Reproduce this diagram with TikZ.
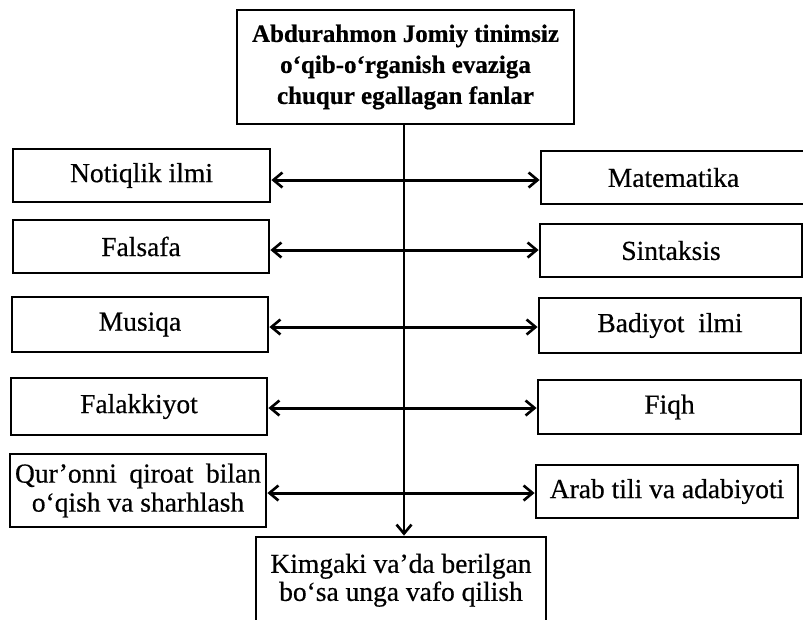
\documentclass[tikz,border=0pt]{standalone}
\usepackage{fontspec}
\setmainfont{Liberation Serif}[FakeBold=0.5]
\newfontfamily\headfont{Liberation Serif}[FakeBold=0.6]
\usetikzlibrary{arrows.meta}
\tikzset{
  box/.style={draw=black, line width=2.8pt, inner sep=0pt, align=center,
    font=\fontsize{27.5}{29}\selectfont},
  topbox/.style={box, font=\headfont\bfseries\fontsize{25}{31}\selectfont},
  barb/.style={Straight Barb[length=9pt,width=15pt,line width=2.6pt]},
  link/.style={line width=3pt, {Straight Barb[length=9pt,width=15pt,line width=2.6pt]}-{Straight Barb[length=9pt,width=15pt,line width=2.6pt]}},
  down/.style={line width=2.8pt, -{Straight Barb[length=9pt,width=15pt,line width=2.6pt]}}
}
\begin{document}
\begin{tikzpicture}[x=1pt,y=-1pt]
\useasboundingbox (0,0) rectangle (803,619);
\node[topbox, minimum width=337pt, minimum height=114pt] (top) at (405.5,67)
  {Abdurahmon Jomiy tinimsiz\\o‘qib-o‘rganish evaziga\\chuqur egallagan fanlar};
\node[box, minimum width=257pt, minimum height=53pt] (l1) at (141.5,175.5) {Notiqlik ilmi};
\node[box, minimum width=256pt, minimum height=53pt] (l2) at (141,246.5) {Falsafa};
\node[box, minimum width=256pt, minimum height=55pt] (l3) at (140,324.5) {Musiqa};
\node[box, minimum width=256pt, minimum height=57pt] (l4) at (139,406.5) {Falakkiyot};
\node[box, minimum width=256pt, minimum height=73pt] (l5) at (138,490.5)
  {\makebox[246pt][s]{Qur’onni qiroat bilan}\\o‘qish va sharhlash};
\node[box, minimum width=265pt, minimum height=53pt] (r1) at (673.5,177.5) {Matematika};
\node[box, minimum width=262pt, minimum height=53pt] (r2) at (671,250.5) {Sintaksis};
\node[box, minimum width=262pt, minimum height=55pt] (r3) at (670,325.5) {Badiyot\ \ ilmi};
\node[box, minimum width=263pt, minimum height=54pt] (r4) at (669.5,407) {Fiqh};
\node[box, minimum width=262pt, minimum height=53pt] (r5) at (667,491.5) {Arab tili va adabiyoti};
\node[box, minimum width=290pt, minimum height=93pt, text height=0pt, text depth=0pt] (bot) at (401,583.5)
  {\raisebox{-3pt}[0pt][0pt]{\parbox{280pt}{\centering\fontsize{27.5}{28}\selectfont Kimgaki va’da berilgan\\bo‘sa unga vafo qilish}}};
\draw[down] (top.south -| 404,0) -- (bot.north -| 404,0);
\draw[link] ([yshift=-4.5pt]l1.east) -- ([yshift=-4.5pt]l1.east -| r1.west);
\draw[link] ([yshift=-3.5pt]l2.east) -- ([yshift=-3.5pt]l2.east -| r2.west);
\draw[link] ([yshift=-2.5pt]l3.east) -- ([yshift=-2.5pt]l3.east -| r3.west);
\draw[link] ([yshift=-1.5pt]l4.east) -- ([yshift=-1.5pt]l4.east -| r4.west);
\draw[link] ([yshift=-2.5pt]l5.east) -- ([yshift=-2.5pt]l5.east -| r5.west);
\end{tikzpicture}
\end{document}
